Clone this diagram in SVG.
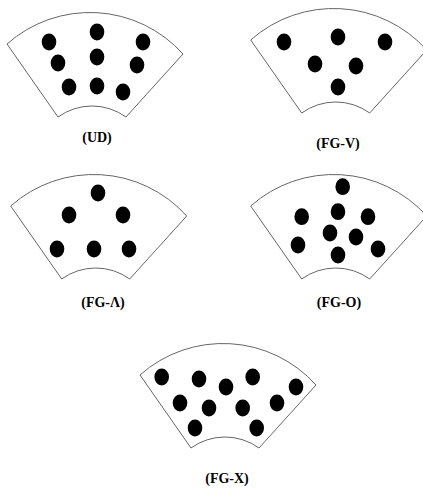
<svg xmlns="http://www.w3.org/2000/svg" width="423" height="492" viewBox="0 0 423 492">
<style>
.sector{fill:#fff;stroke:#666;stroke-width:1}
.dot{fill:#000}
.lbl{font-family:"Liberation Serif","Times New Roman",serif;font-weight:bold;font-size:14px;fill:#000;text-anchor:middle}
</style>
<defs>
<path id="fan" d="M7,44 A125,125 0 0 1 183,54 L126,117 A58,58 0 0 0 58,117 Z"/>
</defs>
<rect width="423" height="492" fill="#fff"/>
<g id="UD">
<use href="#fan" class="sector"/>
<g class="dot">
<ellipse cx="49" cy="42" rx="7.3" ry="8.4"/>
<ellipse cx="97" cy="32" rx="7.3" ry="8.4"/>
<ellipse cx="143" cy="42" rx="7.3" ry="8.4"/>
<ellipse cx="58" cy="63" rx="7.3" ry="8.4"/>
<ellipse cx="97" cy="57" rx="7.3" ry="8.4"/>
<ellipse cx="137" cy="65" rx="7.3" ry="8.4"/>
<ellipse cx="69" cy="87" rx="7.3" ry="8.4"/>
<ellipse cx="97" cy="86" rx="7.3" ry="8.4"/>
<ellipse cx="123" cy="92" rx="7.3" ry="8.4"/>
</g>
<text class="lbl" x="97" y="142">(UD)</text>
</g>
<g id="FG-V">
<use href="#fan" class="sector" transform="translate(243.7,-4)"/>
<g class="dot">
<ellipse cx="284" cy="42" rx="7.3" ry="8.4"/>
<ellipse cx="338" cy="37" rx="7.3" ry="8.4"/>
<ellipse cx="385" cy="42" rx="7.3" ry="8.4"/>
<ellipse cx="315" cy="64" rx="7.3" ry="8.4"/>
<ellipse cx="356" cy="66" rx="7.3" ry="8.4"/>
<ellipse cx="338" cy="87" rx="7.3" ry="8.4"/>
</g>
<text class="lbl" x="338" y="148">(FG-V)</text>
</g>
<g id="FG-Lambda">
<use href="#fan" class="sector" transform="translate(3.7,162)"/>
<g class="dot">
<ellipse cx="98" cy="193" rx="7.3" ry="8.4"/>
<ellipse cx="69" cy="215" rx="7.3" ry="8.4"/>
<ellipse cx="123" cy="215" rx="7.3" ry="8.4"/>
<ellipse cx="57" cy="249" rx="7.3" ry="8.4"/>
<ellipse cx="94" cy="249" rx="7.3" ry="8.4"/>
<ellipse cx="129" cy="249" rx="7.3" ry="8.4"/>
</g>
<text class="lbl" x="103" y="307">(FG-Λ)</text>
</g>
<g id="FG-O">
<use href="#fan" class="sector" transform="translate(243.7,162)"/>
<g class="dot">
<ellipse cx="342.7" cy="186.7" rx="7.3" ry="8.4"/>
<ellipse cx="338" cy="211.7" rx="7.3" ry="8.4"/>
<ellipse cx="301.7" cy="216.7" rx="7.3" ry="8.4"/>
<ellipse cx="368" cy="216.7" rx="7.3" ry="8.4"/>
<ellipse cx="330" cy="233" rx="7.3" ry="8.4"/>
<ellipse cx="356" cy="237" rx="7.3" ry="8.4"/>
<ellipse cx="298" cy="245" rx="7.3" ry="8.4"/>
<ellipse cx="378" cy="249" rx="7.3" ry="8.4"/>
<ellipse cx="338" cy="255" rx="7.3" ry="8.4"/>
</g>
<text class="lbl" x="339" y="307">(FG-O)</text>
</g>
<g id="FG-X">
<use href="#fan" class="sector" transform="translate(133,331)"/>
<g class="dot">
<ellipse cx="161.7" cy="377" rx="7.3" ry="8.4"/>
<ellipse cx="199" cy="379" rx="7.3" ry="8.4"/>
<ellipse cx="226" cy="387" rx="7.3" ry="8.4"/>
<ellipse cx="252.7" cy="377" rx="7.3" ry="8.4"/>
<ellipse cx="296" cy="387" rx="7.3" ry="8.4"/>
<ellipse cx="180" cy="403" rx="7.3" ry="8.4"/>
<ellipse cx="209" cy="408" rx="7.3" ry="8.4"/>
<ellipse cx="242.7" cy="408" rx="7.3" ry="8.4"/>
<ellipse cx="277" cy="403" rx="7.3" ry="8.4"/>
<ellipse cx="195" cy="428" rx="7.3" ry="8.4"/>
<ellipse cx="256.7" cy="428" rx="7.3" ry="8.4"/>
</g>
<text class="lbl" x="227" y="483">(FG-X)</text>
</g>
</svg>
